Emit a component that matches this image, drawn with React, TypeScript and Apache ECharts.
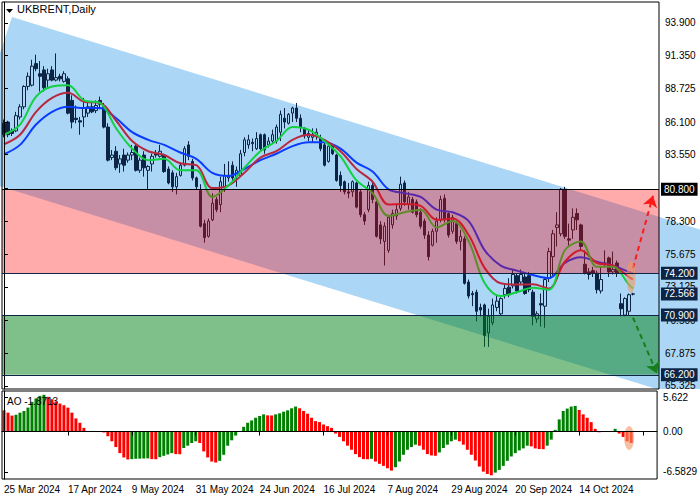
import React, { useEffect, useRef } from "react";
import * as echarts from "echarts";

const dateLabels = ["25 Mar 2024", "17 Apr 2024", "9 May 2024", "31 May 2024", "24 Jun 2024", "16 Jul 2024", "7 Aug 2024", "29 Aug 2024", "20 Sep 2024", "14 Oct 2024"];

const opens = [
  86.0, 86.1, 85.4, 85.4, 86.5, 87.3, 88.9, 89.0, 90.7, 89.9,
  90.2, 89.4, 90.2, 89.4, 89.7, 89.3, 89.5, 87.8, 86.4, 86.2,
  86.5, 86.8, 87.3, 87.0, 87.8, 87.3, 85.7, 83.3, 83.8, 82.8,
  83.5, 83.1, 83.5, 84.2, 82.3, 83.5, 82.3, 82.8, 83.6, 83.4,
  83.5, 82.4, 82.1, 81.0, 81.9, 82.7, 84.3, 83.0, 81.7, 80.7,
  78.1, 77.1, 78.4, 80.0, 79.6, 80.9, 81.7, 82.7, 81.8, 81.9,
  83.7, 84.3, 84.5, 84.0, 85.1, 85.1, 84.3, 84.6, 84.6, 85.3,
  86.4, 86.0, 86.8, 87.2, 86.4, 85.6, 84.9, 84.9, 85.0, 84.8,
  84.3, 83.0, 84.3, 83.5, 81.9, 81.4, 80.6, 80.6, 81.3, 80.6,
  78.8, 79.2, 81.1, 79.8, 78.0, 76.7, 76.0, 78.0, 78.7, 79.3,
  81.3, 79.6, 80.0, 79.8, 79.0, 78.3, 77.2, 76.4, 77.5, 78.4,
  80.1, 78.9, 77.5, 78.1, 76.7, 76.9, 73.5, 72.6, 72.7, 71.5,
  71.7, 69.5, 70.3, 71.5, 71.0, 72.5, 73.1, 73.2, 74.0, 73.5,
  73.9, 74.0, 72.7, 70.6, 71.8, 71.6, 73.8, 75.5, 77.8, 77.3,
  80.8, 76.9, 77.6, 78.9, 78.0, 74.9, 74.3, 74.4, 74.2, 72.8,
  75.0, 75.4, 74.3, 75.0, 71.8, 70.9, 71.2, 72.55
];
const highs = [
  86.3, 86.2, 85.6, 86.9, 87.5, 89.0, 90.0, 91.0, 91.4, 90.9,
  90.5, 90.3, 90.5, 91.5, 89.9, 90.1, 89.7, 88.2, 87.4, 86.5,
  88.0, 87.7, 87.7, 87.8, 88.1, 87.6, 86.0, 83.9, 84.2, 83.5,
  84.0, 83.7, 84.3, 84.3, 83.3, 83.8, 82.7, 83.6, 83.9, 84.3,
  83.6, 82.6, 82.3, 82.1, 82.9, 84.2, 84.6, 83.2, 81.8, 81.2,
  78.4, 78.5, 80.5, 80.2, 81.8, 82.8, 83.0, 83.0, 82.6, 83.9,
  84.9, 85.1, 84.8, 85.3, 85.2, 85.2, 84.9, 85.5, 85.9, 87.0,
  87.2, 86.8, 87.3, 87.6, 86.7, 85.7, 85.5, 85.6, 85.6, 85.1,
  84.6, 84.3, 84.4, 83.6, 82.2, 81.5, 81.3, 81.5, 81.4, 80.8,
  79.0, 81.4, 81.4, 80.0, 78.3, 78.2, 78.8, 79.2, 79.6, 81.8,
  81.5, 80.6, 80.2, 80.0, 79.3, 78.5, 77.5, 77.7, 78.6, 80.3,
  80.4, 79.0, 78.8, 78.3, 77.6, 77.1, 73.7, 72.8, 72.9, 71.8,
  71.8, 71.4, 72.2, 72.5, 72.3, 73.3, 73.8, 74.5, 74.2, 74.5,
  74.3, 74.3, 72.9, 71.2, 72.6, 73.9, 76.2, 77.6, 79.0, 80.9,
  81.0, 78.1, 79.3, 79.3, 78.1, 76.0, 74.6, 74.7, 74.4, 74.7,
  76.0, 75.5, 75.9, 75.2, 72.6, 72.3, 72.6, 72.65
];
const lows = [
  84.9, 84.9, 85.0, 85.3, 86.3, 87.1, 88.6, 88.9, 90.1, 88.5,
  88.5, 88.8, 89.3, 89.3, 89.3, 89.2, 86.7, 85.6, 86.0, 85.1,
  85.7, 86.5, 86.8, 86.8, 87.1, 85.6, 83.0, 83.1, 82.3, 82.1,
  82.2, 82.9, 83.1, 82.2, 82.1, 81.8, 80.8, 82.2, 83.3, 83.3,
  82.1, 81.2, 80.6, 80.4, 81.8, 82.6, 83.1, 81.5, 80.8, 77.8,
  76.6, 77.0, 78.3, 79.0, 79.0, 80.6, 81.4, 81.4, 81.0, 81.8,
  83.4, 84.0, 83.8, 83.9, 83.9, 83.6, 84.1, 84.4, 84.4, 84.6,
  85.6, 85.9, 86.1, 86.1, 85.3, 84.8, 84.6, 84.5, 84.7, 83.8,
  82.6, 82.9, 83.5, 81.4, 80.6, 80.4, 80.1, 80.2, 79.3, 78.6,
  78.0, 79.0, 79.7, 77.0, 76.5, 74.8, 75.8, 77.7, 78.4, 79.1,
  79.5, 79.2, 78.9, 78.6, 77.7, 76.9, 75.2, 76.3, 76.6, 78.2,
  78.2, 77.0, 77.3, 76.5, 76.0, 73.3, 72.2, 71.6, 70.4, 70.8,
  68.4, 68.4, 70.1, 71.2, 70.9, 72.2, 72.3, 73.0, 72.6, 73.3,
  72.5, 72.7, 70.1, 70.3, 70.0, 69.9, 73.5, 74.0, 76.3, 77.1,
  76.9, 76.3, 76.9, 77.6, 76.0, 74.1, 73.7, 73.9, 72.6, 72.6,
  74.7, 73.9, 74.1, 73.9, 70.8, 70.8, 70.9, 72.45
];
const closes = [
  85.1, 85.1, 85.2, 86.6, 87.3, 88.9, 89.7, 90.5, 90.3, 89.7,
  88.8, 89.9, 89.4, 89.6, 89.5, 89.9, 86.8, 86.1, 86.3, 86.1,
  87.2, 87.3, 86.9, 87.4, 87.5, 85.7, 83.1, 83.5, 82.5, 83.2,
  82.7, 83.5, 83.7, 82.3, 83.1, 82.5, 82.6, 83.4, 83.5, 83.8,
  82.2, 81.3, 81.0, 81.8, 82.7, 84.0, 83.4, 81.7, 81.0, 77.9,
  77.0, 78.3, 79.7, 79.2, 81.4, 81.9, 81.9, 81.7, 82.3, 83.6,
  84.7, 84.7, 84.4, 84.8, 84.0, 83.9, 84.6, 85.1, 85.7, 86.7,
  86.1, 86.7, 87.2, 86.4, 85.7, 85.0, 85.2, 85.1, 85.3, 84.0,
  82.7, 84.2, 83.6, 81.5, 81.1, 80.6, 80.5, 81.4, 79.4, 78.8,
  78.3, 81.1, 80.0, 77.1, 76.9, 77.9, 78.6, 78.9, 79.2, 81.2,
  79.8, 80.2, 79.0, 78.8, 77.9, 77.2, 75.5, 77.5, 78.3, 80.0,
  78.4, 77.2, 78.6, 76.7, 77.1, 73.4, 72.4, 72.5, 71.2, 71.3,
  69.3, 70.8, 71.7, 72.0, 72.2, 73.0, 72.5, 74.1, 72.8, 74.1,
  72.6, 72.9, 70.8, 71.0, 71.7, 73.7, 75.9, 77.3, 78.0, 80.8,
  77.1, 76.8, 78.6, 78.4, 76.3, 74.2, 74.1, 74.2, 72.9, 73.7,
  74.9, 74.3, 74.5, 74.2, 71.4, 72.2, 72.5, 72.566
];

const maBars = [0, 4, 8, 12, 16, 20, 24, 28, 32, 36, 40, 44, 48, 52, 56, 60, 64, 68, 72, 76, 80, 84, 88, 92, 96, 100, 104, 108, 112, 116, 120, 124, 128, 132, 136, 140, 144, 148, 152, 156, 157];
const maFast = [85.1, 85.9, 88.1, 88.9, 89.0, 87.8, 87.6, 85.6, 84.0, 83.1, 83.2, 82.3, 82.3, 80.2, 81.1, 82.5, 83.8, 84.6, 85.7, 85.5, 84.6, 83.4, 81.5, 80.5, 78.7, 79.0, 79.2, 77.8, 78.3, 76.7, 73.4, 72.4, 72.7, 73.05, 72.9, 76.0, 76.7, 74.7, 74.7, 73.3, 73.0];
const maMid = [84.35, 85.1, 86.9, 88.0, 88.4, 87.7, 87.6, 86.2, 84.6, 83.8, 83.5, 82.85, 82.7, 80.9, 81.1, 82.1, 83.3, 83.8, 84.7, 85.1, 84.7, 83.8, 82.4, 81.4, 79.6, 79.65, 79.5, 78.4, 78.5, 77.2, 74.6, 73.4, 73.3, 73.33, 73.0, 75.1, 76.0, 75.0, 74.8, 73.9, 73.7];
const maSlow = [83.56, 84.3, 85.9, 86.9, 87.3, 87.2, 87.2, 86.4, 85.3, 84.7, 84.3, 83.7, 83.2, 82.1, 81.85, 82.4, 83.1, 83.6, 84.2, 84.5, 84.5, 84.0, 82.9, 82.2, 80.8, 80.5, 80.2, 79.2, 79.0, 78.3, 76.0, 74.8, 74.4, 74.05, 73.8, 75.0, 75.45, 75.1, 74.8, 74.3, 74.2];

const aoValues = [
  3.46, 3.08, 2.6, 2.75, 3.08, 3.35, 3.9, 4.84, 5.38, 5.82,
  5.99, 5.66, 5.27, 4.89, 4.56, 4.29, 3.9, 3.08, 2.14, 1.43,
  0.6, 0.08, 0.1, 0.04, 0.06, -0.15, -0.77, -1.59, -2.53, -3.52,
  -4.23, -4.55, -4.5, -4.45, -4.42, -4.4, -4.38, -4.5, -4.52, -4.18,
  -3.96, -3.74, -3.52, -3.68, -3.7, -2.69, -2.31, -1.87, -1.59, -1.87,
  -3.24, -4.23, -4.89, -5.05, -4.78, -3.79, -2.31, -1.43, -0.66, 0.05,
  0.77, 1.43, 1.81, 2.25, 2.53, 2.8, 2.64, 2.62, 2.8, 2.97,
  3.24, 3.46, 3.79, 4.07, 3.79, 3.35, 2.91, 2.25, 1.7, 1.54,
  1.15, 0.88, 0.6, -0.33, -0.88, -1.59, -2.31, -2.97, -3.68, -4.18,
  -4.5, -4.52, -4.45, -4.89, -5.27, -5.6, -5.99, -6.37, -5.82, -4.89,
  -3.79, -2.97, -2.53, -2.14, -2.31, -2.97, -3.68, -3.9, -3.95, -3.41,
  -2.69, -2.14, -1.59, -1.32, -1.59, -2.14, -2.97, -3.79, -4.73, -5.71,
  -6.54, -6.92, -7.14, -6.7, -6.26, -5.6, -4.78, -4.07, -3.52, -3.08,
  -2.75, -2.31, -2.42, -2.75, -2.86, -2.88, -2.31, -1.32, 0.27, 1.98,
  3.35, 3.74, 4.07, 4.18, 3.52, 2.8, 2.25, 1.54, 0.44, -0.12,
  -0.08, -0.02, 0.1, 0.44, -0.33, -0.88, -1.6, -1.8713
];

const priceTicks = [93.9, 91.35, 88.725, 86.1, 83.55, 80.925, 78.3, 75.675, 73.125, 70.5, 67.875, 65.325];
const aoTicks = [5.622, 0, -6.5829];
const aoTickLabels = ["5.622", "0.00", "-6.5829"];
const resistanceZone = [80.8, 74.2];
const supportZone = [70.9, 66.2];
const lastPrice = 72.566;
const aoLast = -1.8713;
const channelCorners = [[2, 94.37], [174, 77.62], [174, 64.0], [-11.1, 82.02]];
const upArrow = [[157, 74.6], [162, 80.3]];
const downArrow = [[157, 70.7], [163, 66.3]];
const priceMark = [156.5, 73.9];
const aoMark = [156.5, -1.05];

const FONT = "'Liberation Sans', Arial, sans-serif";
const NAVY = "#0d2444";
const SLOTS = 164;

type Pt = number[];
function clipPolygon(pts: Pt[], xmin: number, ymin: number, xmax: number, ymax: number): Pt[] {
  const edges: [(p: Pt) => boolean, (a: Pt, b: Pt) => Pt][] = [
    [(p) => p[0] >= xmin, (a, b) => { const t = (xmin - a[0]) / (b[0] - a[0]); return [xmin, a[1] + t * (b[1] - a[1])]; }],
    [(p) => p[0] <= xmax, (a, b) => { const t = (xmax - a[0]) / (b[0] - a[0]); return [xmax, a[1] + t * (b[1] - a[1])]; }],
    [(p) => p[1] >= ymin, (a, b) => { const t = (ymin - a[1]) / (b[1] - a[1]); return [a[0] + t * (b[0] - a[0]), ymin]; }],
    [(p) => p[1] <= ymax, (a, b) => { const t = (ymax - a[1]) / (b[1] - a[1]); return [a[0] + t * (b[0] - a[0]), ymax]; }],
  ];
  let out = pts;
  for (const [inside, inter] of edges) {
    const inp = out;
    out = [];
    for (let i = 0; i < inp.length; i++) {
      const cur = inp[i];
      const prev = inp[(i + inp.length - 1) % inp.length];
      const ci = inside(cur);
      const pi = inside(prev);
      if (ci) {
        if (!pi) out.push(inter(prev, cur));
        out.push(cur);
      } else if (pi) {
        out.push(inter(prev, cur));
      }
    }
  }
  return out;
}

export default function App() {
  const ref = useRef<HTMLDivElement>(null);

  useEffect(() => {
    if (!ref.current) return;
    const chart = echarts.init(ref.current, null, { renderer: "svg" });
    const cats = Array.from({ length: SLOTS }, (_, i) => String(i));
    const candles = opens.map((o, i) => [o, closes[i], lows[i], highs[i]]);
    const maLine = (vals: number[]) => maBars.map((k, i) => [k, vals[i]]);
    const aoData = aoValues.map((v, i) => ({
      value: v,
      itemStyle: { color: i > 0 && v > aoValues[i - 1] ? "#008000" : "#ff0000" },
    }));

    const levelLabel = (bg: string) => ({
      show: true,
      position: "end",
      distance: 2,
      color: "#fff",
      backgroundColor: bg,
      padding: [1, 3, 1, 3],
      fontSize: 10,
      lineHeight: 11,
      fontFamily: FONT,
      formatter: (p: any) => Number(p.value).toFixed(3),
    });

    const option: any = {
      animation: false,
      backgroundColor: "#fff",
      title: [
        { text: "UKBRENT,Daily", left: 17, top: 3, padding: 0, z: 20, textStyle: { color: "#000", fontSize: 11, fontWeight: "normal", fontFamily: FONT } },
        { text: "AO " + aoLast.toFixed(4), left: 7, top: 396, padding: 0, z: 20, textStyle: { color: "#000", fontSize: 10, fontWeight: "normal", fontFamily: FONT } },
      ],
      grid: [
        { left: 2, right: 41, top: 2, bottom: 111, show: true, borderColor: "#000", borderWidth: 1, z: 5 },
        { left: 2, right: 41, top: 391, bottom: 21, show: true, borderColor: "#000", borderWidth: 1, z: 5 },
      ],
      xAxis: [
        { type: "category", gridIndex: 0, data: cats, show: false, boundaryGap: true },
        { type: "value", gridIndex: 0, min: -0.5, max: SLOTS - 0.5, show: false, splitLine: { show: false } },
        {
          type: "category", gridIndex: 1, data: cats, boundaryGap: true, z: 5,
          axisLine: { show: true, lineStyle: { color: "#000", width: 1 } },
          axisTick: { show: true, interval: 15, alignWithLabel: true, length: 4, lineStyle: { color: "#000" } },
          axisLabel: {
            interval: 15, align: "left", margin: 5, color: "#000", fontSize: 10, fontFamily: FONT,
            formatter: (_v: string, idx: number) => (idx % 16 === 0 && dateLabels[idx / 16]) || "",
          },
          splitLine: { show: false },
        },
        { type: "value", gridIndex: 1, min: -0.5, max: SLOTS - 0.5, show: false, splitLine: { show: false } },
      ],
      yAxis: [
        {
          type: "value", gridIndex: 0, position: "right", min: 65.08, max: 95.55, z: 5,
          axisLine: { show: true, lineStyle: { color: "#000" } },
          axisTick: { show: true, customValues: priceTicks, length: 4, lineStyle: { color: "#000" } },
          axisLabel: {
            customValues: priceTicks, margin: 6, color: "#000", fontSize: 10, fontFamily: FONT,
            formatter: (v: number) => v.toFixed(3),
          },
          splitLine: { show: false },
        },
        {
          type: "value", gridIndex: 1, position: "right", min: -7.74, max: 6.61, z: 5,
          axisLine: { show: true, lineStyle: { color: "#000" } },
          axisTick: { show: true, customValues: aoTicks, length: 4, lineStyle: { color: "#000" } },
          axisLabel: {
            customValues: aoTicks, margin: 6, color: "#000", fontSize: 10, fontFamily: FONT,
            formatter: (v: number) => {
              const i = aoTicks.findIndex((t) => Math.abs(t - v) < 1e-6);
              return i >= 0 ? aoTickLabels[i] : "";
            },
          },
          splitLine: { show: false },
        },
      ],
      series: [
        {
          name: "channel",
          type: "custom",
          xAxisIndex: 1,
          yAxisIndex: 0,
          z: 1,
          clip: false,
          silent: true,
          data: [[0, 80]],
          renderItem: (params: any, api: any) => {
            const pts = channelCorners.map((c) => api.coord(c));
            const cs = params.coordSys;
            const clipped = clipPolygon(pts, 0, cs.y, api.getWidth(), cs.y + cs.height);
            return { type: "polygon", shape: { points: clipped }, style: { fill: "#acd6f6" } };
          },
        },
        {
          name: "UKBRENT",
          type: "candlestick",
          xAxisIndex: 0,
          yAxisIndex: 0,
          z: 2,
          barWidth: 3,
          data: candles,
          itemStyle: {
            color: "rgba(0,0,0,0)",
            color0: NAVY,
            borderColor: NAVY,
            borderColor0: NAVY,
            borderWidth: 1,
          },
        },
        {
          name: "MA slow", type: "line", xAxisIndex: 1, yAxisIndex: 0, z: 3, data: maLine(maSlow),
          smooth: 0.35, symbol: "none", lineStyle: { color: "#0a3cff", width: 2 },
        },
        {
          name: "MA mid", type: "line", xAxisIndex: 1, yAxisIndex: 0, z: 3, data: maLine(maMid),
          smooth: 0.35, symbol: "none", lineStyle: { color: "#b8283f", width: 2 },
        },
        {
          name: "MA fast", type: "line", xAxisIndex: 1, yAxisIndex: 0, z: 3, data: maLine(maFast),
          smooth: 0.35, symbol: "none", lineStyle: { color: "#12d040", width: 2 },
        },
        {
          name: "zones", type: "line", xAxisIndex: 1, yAxisIndex: 0, z: 4, data: [],
          markArea: {
            z: 4,
            silent: true,
            data: [
              [{ yAxis: resistanceZone[0], itemStyle: { color: "rgba(255,0,0,0.33)" } }, { yAxis: resistanceZone[1] }],
              [{ yAxis: supportZone[0], itemStyle: { color: "rgba(0,128,20,0.5)" } }, { yAxis: supportZone[1] }],
            ],
          },
        },
        {
          name: "arrows", type: "line", xAxisIndex: 1, yAxisIndex: 0, z: 6, data: [],
          markLine: {
            z: 6,
            silent: true,
            symbol: ["none", "arrow"],
            symbolSize: 11,
            label: { show: false },
            data: [
              [{ coord: upArrow[0], lineStyle: { color: "#ff1a1a", width: 2, type: [5, 4] } }, { coord: upArrow[1] }],
              [{ coord: downArrow[0], lineStyle: { color: "#15801a", width: 2, type: [5, 4] } }, { coord: downArrow[1] }],
            ],
          },
          markPoint: {
            z: 6,
            silent: true,
            symbol: "circle",
            symbolSize: [9, 32],
            label: { show: false },
            itemStyle: { color: "rgba(244,150,100,0.6)" },
            data: [{ coord: priceMark }],
          },
        },
        {
          name: "levels", type: "line", xAxisIndex: 1, yAxisIndex: 0, z: 8, data: [],
          markLine: {
            z: 8,
            silent: true,
            precision: 3,
            symbol: ["none", "none"],
            data: [
              { yAxis: resistanceZone[0], lineStyle: { color: "#000", width: 1, type: "solid" }, label: levelLabel("#000") },
              { yAxis: resistanceZone[1], lineStyle: { color: NAVY, width: 1, type: "solid" }, label: levelLabel(NAVY) },
              { yAxis: lastPrice, lineStyle: { color: "rgba(0,0,0,0)", width: 0, type: "solid" }, label: levelLabel(NAVY) },
              { yAxis: supportZone[0], lineStyle: { color: NAVY, width: 1, type: "solid" }, label: levelLabel(NAVY) },
              { yAxis: supportZone[1], lineStyle: { color: NAVY, width: 1, type: "solid" }, label: levelLabel(NAVY) },
            ],
          },
        },
        {
          name: "AO", type: "bar", xAxisIndex: 2, yAxisIndex: 1, z: 2, barWidth: 3, data: aoData,
        },
        {
          name: "AO mark", type: "line", xAxisIndex: 3, yAxisIndex: 1, z: 4, data: [],
          markPoint: {
            z: 4,
            silent: true,
            symbol: "circle",
            symbolSize: [10, 24],
            label: { show: false },
            itemStyle: { color: "rgba(244,150,100,0.6)" },
            data: [{ coord: aoMark }],
          },
        },
      ],
      graphic: [
        { type: "polygon", z: 20, shape: { points: [[6, 9], [13, 9], [9.5, 13]] }, style: { fill: "#000" } },
      ],
    };
    chart.setOption(option);
    return () => chart.dispose();
  }, []);

  return <div ref={ref} style={{ position: "absolute", left: 0, top: 0, width: 700, height: 500 }} />;
}
